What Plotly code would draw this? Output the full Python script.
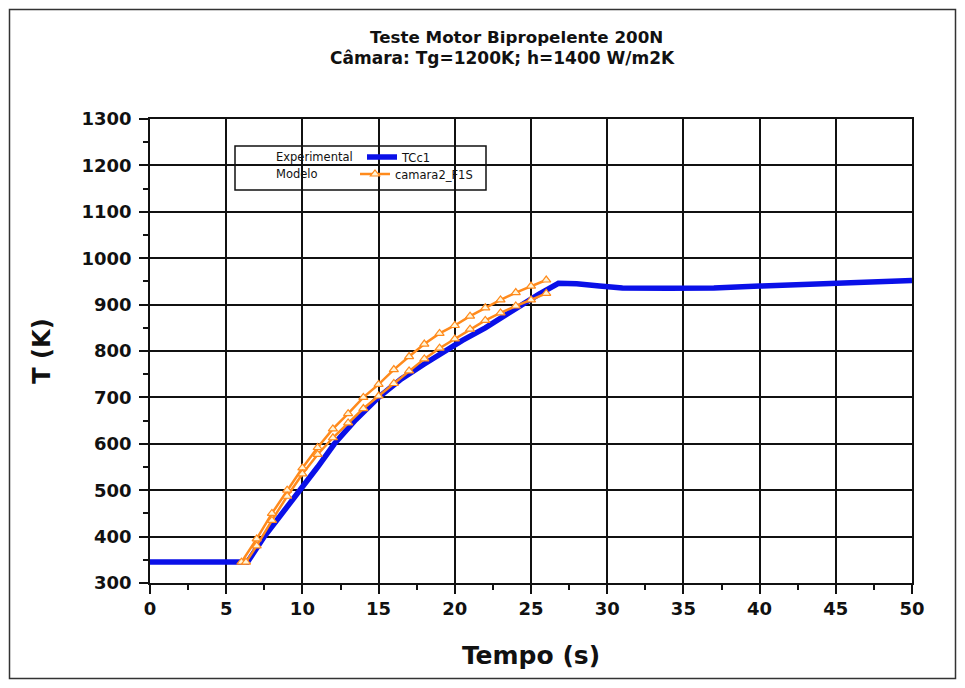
import plotly.graph_objects as go

# Experimental (TCc1)
exp_t = [0, 6.4, 7.5, 8.7, 9.9, 11.0, 12.1, 13.5, 15.0, 16.5, 18.0, 19.3, 20.5, 22.0,
         23.2, 24.3, 25.5, 26.8, 28.0, 29.5, 31.0, 34.0, 37.0, 40.0, 43.0, 46.0, 50.0]
exp_T = [345, 345, 400, 450, 500, 550, 600, 652, 700, 740, 772, 800, 823, 850,
         875, 900, 922, 946, 945, 940, 936, 935, 936, 940, 944, 947, 952]

# Modelo (camara2_F1S) - upper branch
mod_up_t = [6, 7, 8, 9, 10, 11, 12, 13, 14, 15, 16, 17, 18, 19, 20, 21, 22, 23, 24, 25, 26]
mod_up_T = [345, 395, 450, 500, 548, 592, 632, 665, 700, 728, 760, 788, 815, 838, 855,
            875, 893, 910, 926, 940, 953]
# Modelo (camara2_F1S) - lower branch
mod_lo_t = [6.3, 7, 8, 9, 10, 11, 12, 13, 14, 15, 16, 17, 18, 19, 20, 21, 22, 23, 24, 25, 26]
mod_lo_T = [345, 380, 435, 487, 535, 577, 613, 645, 676, 703, 730, 757, 783, 806, 826,
            847, 866, 882, 897, 910, 924]

x_ticks = [0, 5, 10, 15, 20, 25, 30, 35, 40, 45, 50]
y_ticks = [300, 400, 500, 600, 700, 800, 900, 1000, 1100, 1200, 1300]

BLUE = "#0a10e8"
ORANGE = "#ff8a1c"

fig = go.Figure()
fig.add_trace(go.Scatter(
    x=exp_t, y=exp_T, mode="lines", name="TCc1",
    line=dict(color=BLUE, width=5.5), legend="legend"))
fig.add_trace(go.Scatter(
    x=mod_up_t + [None] + mod_lo_t, y=mod_up_T + [None] + mod_lo_T,
    mode="lines+markers", name="camara2_F1S",
    line=dict(color=ORANGE, width=2.5),
    marker=dict(symbol="triangle-up", size=8, color="#fff4d8",
                line=dict(color=ORANGE, width=1.2)),
    legend="legend2"))

OFF = 8  # page body margin
L, R, T, B = 142, 45, 111, 97
W, H = 949, 672
pw, ph = W - L - R, H - T - B

def px(x):
    return (x - OFF - L) / pw

def py(y):
    return (OFF + H - B - y) / ph

axis_common = dict(showgrid=True, gridcolor="#111111", gridwidth=1.5,
                   showline=True, linecolor="#111111", linewidth=1.5, mirror=True,
                   ticks="outside", ticklen=9, tickwidth=1.5, tickcolor="#111111",
                   tickfont=dict(family="DejaVu Sans", size=18, color="#111111", weight="bold"),
                   zeroline=False)

LEG_FONT = dict(family="DejaVu Sans", size=11.5, color="#111111")

fig.update_layout(
    width=W, height=H,
    margin=dict(l=L, r=R, t=T, b=B),
    paper_bgcolor="white", plot_bgcolor="white",
    font=dict(family="DejaVu Sans", color="#111111"),
    xaxis=dict(range=[0, 50], tickvals=x_ticks,
               minor=dict(dtick=2.5, ticks="outside", ticklen=5, tickcolor="#111111", showgrid=False),
               title=dict(text="<b>Tempo (s)</b>", font=dict(size=25, family="DejaVu Sans"), standoff=28),
               **axis_common),
    yaxis=dict(range=[300, 1300], tickvals=y_ticks, ticklabelstandoff=4,
               minor=dict(dtick=50, ticks="outside", ticklen=5, tickcolor="#111111", showgrid=False),
               title=dict(text="<b>T (K)</b>", font=dict(size=24, family="DejaVu Sans"), standoff=24),
               **axis_common),
    legend=dict(x=px(362), y=py(157), xanchor="left", yanchor="middle",
                bgcolor="rgba(0,0,0,0)", borderwidth=0, font=LEG_FONT),
    legend2=dict(x=px(355), y=py(174), xanchor="left", yanchor="middle",
                 bgcolor="rgba(0,0,0,0)", borderwidth=0, font=LEG_FONT),
    showlegend=True,
)

# Title lines (right aligned as in reference)
fig.add_annotation(xref="paper", yref="paper", x=px(665), y=py(37), xanchor="right", yanchor="middle",
                   text="<b>Teste Motor Bipropelente 200N</b>", showarrow=False,
                   font=dict(family="DejaVu Sans", size=16.7, color="#111111"))
fig.add_annotation(xref="paper", yref="paper", x=px(677), y=py(58), xanchor="right", yanchor="middle",
                   text="<b>Câmara: Tg=1200K; h=1400 W/m2K</b>", showarrow=False,
                   font=dict(family="DejaVu Sans", size=17, color="#111111"))

# Legend left labels
fig.add_annotation(xref="paper", yref="paper", x=px(274), y=py(157), xanchor="left", yanchor="middle",
                   text="Experimental", showarrow=False, font=LEG_FONT)
fig.add_annotation(xref="paper", yref="paper", x=px(274), y=py(174), xanchor="left", yanchor="middle",
                   text="Modelo", showarrow=False, font=LEG_FONT)

# Legend box
fig.add_shape(type="rect", xref="paper", yref="paper",
              x0=px(235), x1=px(486), y0=py(146), y1=py(190),
              line=dict(color="#111111", width=1.5), fillcolor="white", layer="below")
# Outer frame
fig.add_shape(type="rect", xref="paper", yref="paper",
              x0=px(9.5), x1=px(955.5), y0=py(9.5), y1=py(678.5),
              line=dict(color="#333333", width=1.5), fillcolor="rgba(0,0,0,0)")

fig.write_html("out.html")
